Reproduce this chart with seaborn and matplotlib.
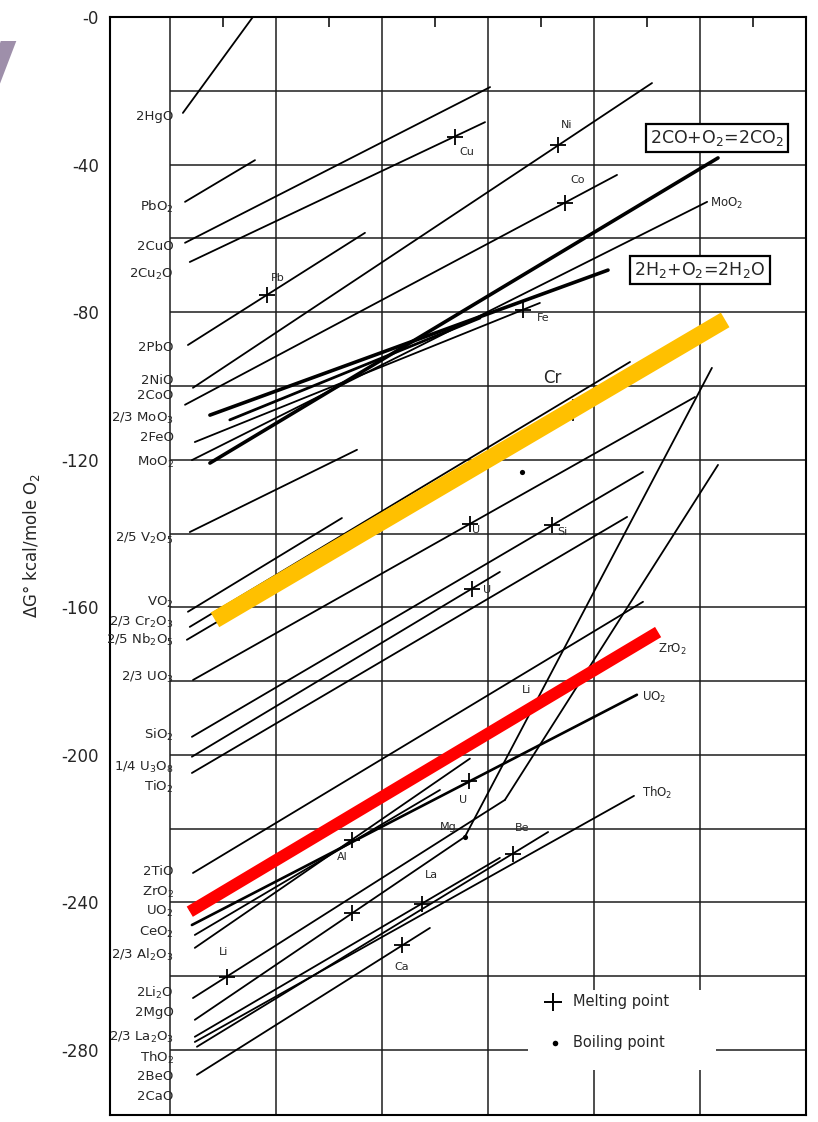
import numpy as np
import pandas as pd
import matplotlib
matplotlib.use("Agg")
import matplotlib.pyplot as plt
from matplotlib.patches import Rectangle
import seaborn as sns

sns.set_style("white")
plt.rcParams['font.family'] = ['DejaVu Sans']
plt.rcParams['mathtext.default'] = 'regular'

# ---------------- data (temperature in deg C, dG in kcal / mole O2) ----------------
thin_names = ["2HgO", "PbO2", "2CuO", "2Cu2O", "2PbO", "2NiO", "2CoO", "2FeO", "MoO2",
              "V2O5", "VO2", "Cr2O3", "Nb2O5", "UO3", "SiO2", "U3O8", "TiO2", "2TiO",
              "ZrO2", "CeO2", "Al2O3", "Li2O", "Li2O_g", "MgO", "MgO_g", "La2O3",
              "ThO2", "BeO", "CaO"]
thin_T0 = [49, 57, 57, 75, 68, 87, 57, 94, 83,
           75, 68, 75, 64, 87, 83, 83, 83, 87,
           75, 94, 94, 87, 1264, 94, 1113, 94,
           94, 102, 102]
thin_G0 = [-26.0, -50.1, -61.2, -66.4, -88.9, -100.5, -105.1, -115.2, -120.1,
           -139.6, -161.2, -165.3, -168.8, -179.7, -195.1, -200.5, -204.9, -232.0,
           -242.0, -248.8, -252.3, -265.9, -212.2, -271.8, -222.2, -276.4,
           -277.8, -279.1, -286.7]
thin_T1 = [313, 321, 1208, 1189, 736, 1819, 1687, 1396, 2027,
           706, 649, 1736, 1472, 1981, 1785, 1245, 1725, 1785,
           1819, 1019, 1132, 1264, 2068, 1113, 2045, 1245,
           1751, 1427, 981]
thin_G1 = [0.0, -38.8, -19.0, -28.5, -58.5, -17.9, -42.8, -77.5, -50.1,
           -117.3, -135.8, -93.5, -109.2, -103.0, -123.3, -150.4, -135.5, -158.5,
           -168.8, -209.5, -201.0, -212.2, -121.4, -222.2, -95.1, -227.9,
           -211.1, -220.9, -246.9]

thick_names = ["2H2+O2=2H2O", "2CO+O2=2CO2", "MoO3", "UO2"]
thick_T0 = [151, 151, 226, 83]
thick_G0 = [-107.9, -120.9, -109.2, -246.1]
thick_T1 = [1653, 2068, 1170, 1762]
thick_G1 = [-68.6, -38.2, -81.6, -183.7]
thick_w = [2.6, 2.6, 2.0, 1.9]

melt_T = [1076, 1464, 1491, 366, 1332, 1132, 1442, 1140, 1128, 687, 687, 951, 1294, 876, 215]
melt_G = [-32.4, -34.8, -50.3, -75.3, -79.3, -137.4, -137.7, -154.9, -207.2, -223.0,
          -242.9, -240.3, -226.8, -251.6, -260.1]
boil_T = [1113, 1328]
boil_G = [-222.2, -123.3]

mark_text = ["Cu", "Ni", "Co", "Pb", "Fe", "U", "Si", "U", "Li", "U", "Mg", "Be", "Al", "La", "Li", "Ca"]
mark_T = [1121, 1498, 1540, 408, 1408, 1155, 1479, 1196, 1344, 1106, 1049, 1328, 649, 985, 204, 876]
mark_G = [-36.6, -29.3, -44.2, -70.7, -81.6, -139.0, -139.6, -155.3, -182.4, -212.2,
          -219.5, -219.8, -227.6, -232.5, -253.4, -257.5]

end_text = ["MoO$_2$", "ZrO$_2$", "UO$_2$", "ThO$_2$"]
end_T = [2038, 1840, 1781, 1781]
end_G = [-50.4, -171.5, -184.3, -210.3]

left_labels = ["2HgO", "PbO$_2$", "2CuO", "2Cu$_2$O", "2PbO", "2NiO", "2CoO",
               "2/3 MoO$_3$", "2FeO", "MoO$_2$", "2/5 V$_2$O$_5$", "VO$_2$",
               "2/3 Cr$_2$O$_3$", "2/5 Nb$_2$O$_5$", "2/3 UO$_3$", "SiO$_2$",
               "1/4 U$_3$O$_8$", "TiO$_2$", "2TiO", "ZrO$_2$", "UO$_2$", "CeO$_2$",
               "2/3 Al$_2$O$_3$", "2Li$_2$O", "2MgO", "2/3 La$_2$O$_3$", "ThO$_2$",
               "2BeO", "2CaO"]
left_G = [-27.1, -51.5, -62.3, -69.9, -89.7, -98.4, -102.7,
          -108.7, -114.1, -120.6, -141.2, -158.8,
          -164.2, -168.8, -178.9, -194.6,
          -203.5, -208.7, -231.7, -237.4, -242.3, -248.0,
          -254.2, -264.5, -269.9, -276.7, -282.1,
          -287.3, -292.7]

ytick_vals = [0, -40, -80, -120, -160, -200, -240, -280]
ytick_labels = ["-0", "-40", "-80", "-120", "-160", "-200", "-240", "-280"]
grid_T = [0, 400, 800, 1200, 1600, 2000]
grid_G = [-20, -40, -60, -80, -100, -120, -140, -160, -180, -200, -220, -240, -260, -280]
top_ticks = [200, 600, 1000, 1400, 1800, 2200]

highlight_T0 = [170, 75]
highlight_G0 = [-163.4, -242.5]
highlight_T1 = [2095, 1842]
highlight_G1 = [-82.1, -166.7]
highlight_col = ["#FFC000", "#FF0000"]
highlight_w = [12.2, 8.6]

# ---------------- figure ----------------
fig = plt.figure(figsize=(8.18, 11.22), dpi=100)
ax = fig.add_axes([110 / 818, 1 - 1115 / 1122, 696 / 818, 1098 / 1122])
XMIN, XMAX, YMIN, YMAX = -226, 2400, -297.6, 0
ax.set_xlim(XMIN, XMAX)
ax.set_ylim(YMIN, YMAX)

gcol = "#1c1c1c"
ax.hlines(grid_G, 0, XMAX, color=gcol, lw=1.1, zorder=1)
ax.vlines(grid_T, YMIN, YMAX, color=gcol, lw=1.1, zorder=1)

# legend white patch (covers grid)
ax.add_patch(Rectangle((1351, -285.4), 710, 21.7, facecolor="white", edgecolor="none", zorder=1.5))

rows = []
for n, a, b, c, d in zip(thin_names, thin_T0, thin_G0, thin_T1, thin_G1):
    rows.append((n, a, b))
    rows.append((n, c, d))
df_thin = pd.DataFrame(rows, columns=["line", "T", "G"])
sns.lineplot(data=df_thin, x="T", y="G", units="line", estimator=None, sort=False,
             color="black", lw=1.3, legend=False, ax=ax, zorder=2)

for n, a, b, c, d, w in zip(thick_names, thick_T0, thick_G0, thick_T1, thick_G1, thick_w):
    dfk = pd.DataFrame({"T": [a, c], "G": [b, d]})
    sns.lineplot(data=dfk, x="T", y="G", sort=False, color="black", lw=w,
                 legend=False, ax=ax, zorder=2)

sns.scatterplot(x=melt_T, y=melt_G, marker="+", s=130, color="black", linewidth=1.3,
                ax=ax, zorder=3, legend=False)
sns.scatterplot(x=boil_T, y=boil_G, marker="o", s=14, color="black", linewidth=0,
                ax=ax, zorder=3, legend=False)
# Cr mark
ax.plot([1521], [-106.4], marker="|", ms=16, mew=1.2, color="black", zorder=2)

# highlight bands
for a, b, c, d, col, w in zip(highlight_T0, highlight_G0, highlight_T1, highlight_G1,
                              highlight_col, highlight_w):
    dfh = pd.DataFrame({"T": [a, c], "G": [b, d]})
    sns.lineplot(data=dfh, x="T", y="G", sort=False, color=col, lw=w, legend=False,
                 ax=ax, zorder=4, solid_capstyle="butt")

# texts
for t, x, y in zip(mark_text, mark_T, mark_G):
    ax.text(x, y, t, fontsize=8, ha="center", va="center", zorder=5)
ax.text(1442, -97.8, "Cr", fontsize=12, ha="center", va="center", zorder=5)
for t, x, y in zip(end_text, end_T, end_G):
    ax.text(x, y, t, fontsize=8.5, ha="left", va="center", zorder=5)
for t, y in zip(left_labels, left_G):
    ax.text(14, y, t, fontsize=9.5, ha="right", va="center", zorder=5)

box = dict(boxstyle="square,pad=0.25", facecolor="white", edgecolor="black", lw=1.6)
ax.text(2064, -32.8, "2CO+O$_2$=2CO$_2$", fontsize=12.5, ha="center", va="center",
        bbox=box, zorder=5)
ax.text(2000, -68.6, "2H$_2$+O$_2$=2H$_2$O", fontsize=12.5, ha="center", va="center",
        bbox=box, zorder=5)

# legend
sns.scatterplot(x=[1445], y=[-266.9], marker="+", s=150, color="black", linewidth=1.4,
                ax=ax, zorder=5, legend=False)
sns.scatterplot(x=[1453], y=[-278.0], marker="o", s=16, color="black", linewidth=0,
                ax=ax, zorder=5, legend=False)
ax.text(1521, -266.9, "Melting point", fontsize=10.5, ha="left", va="center", zorder=5)
ax.text(1521, -278.0, "Boiling point", fontsize=10.5, ha="left", va="center", zorder=5)

# axes styling
for s in ax.spines.values():
    s.set_color("black")
    s.set_linewidth(1.5)
ax.set_yticks(ytick_vals)
ax.set_yticklabels(ytick_labels)
ax.set_yticks([-20, -60, -100, -140, -180, -220, -260], minor=True)
ax.tick_params(axis="y", which="major", direction="out", length=6, width=1.3,
               labelsize=12, pad=2)
ax.tick_params(axis="y", which="minor", direction="out", length=4, width=1.1)
ax.set_xticks(top_ticks)
ax.set_xticklabels([])
ax.xaxis.set_ticks_position("top")
ax.tick_params(axis="x", which="major", direction="in", length=7, width=1.3)
ax.set_xlabel("")
ax.set_ylabel("")

fig.text(32 / 818, 1 - 545 / 1122, "ΔG° kcal/mole O$_2$", rotation=90, fontsize=12,
         ha="center", va="center")

# partial decorative letter at top-left
fig.text(18 / 818, 1 - 90 / 1122, "y", fontsize=64, fontweight="bold", color="#9E8FAA",
         ha="right", va="baseline")

fig.savefig("out.png", dpi=100)
